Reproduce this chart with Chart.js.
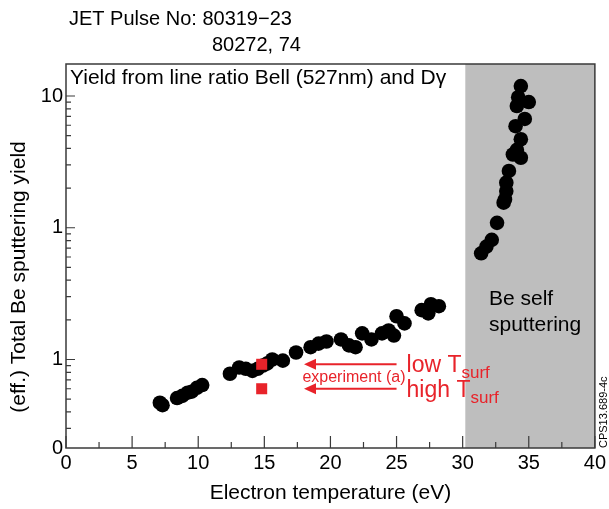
<!DOCTYPE html>
<html>
<head>
<meta charset="utf-8">
<script src="https://cdn.jsdelivr.net/npm/chart.js@4.4.0/dist/chart.umd.min.js"></script>
<style>
  body { margin: 0; background: #fff; }
</style>
</head>
<body>
<canvas id="yieldChart" width="609" height="509"></canvas>
<script>
// Te (eV) vs effective Be sputtering yield
const teLow = [7.1, 7.3, 8.4, 8.8, 9.2, 9.5, 9.9, 10.3, 12.4, 13.1, 13.6, 14.1, 14.5, 14.9, 15.2, 15.6,
  16.4, 17.4, 18.5, 19.1, 19.7, 20.8, 21.4, 21.9, 22.4, 23.1, 23.9, 24.4, 24.8, 25.0, 25.6, 26.9, 27.4, 27.6, 28.2];
const yieldLow = [0.047, 0.045, 0.051, 0.053, 0.056, 0.057, 0.061, 0.064, 0.078, 0.087, 0.085, 0.082, 0.085, 0.090, 0.093, 0.100,
  0.098, 0.113, 0.124, 0.132, 0.137, 0.142, 0.128, 0.124, 0.158, 0.142, 0.158, 0.166, 0.152, 0.213, 0.188, 0.237, 0.224, 0.263, 0.254];

// self sputtering branch (grey area)
const teSelf = [31.4, 31.8, 32.2, 32.6, 33.1, 33.2, 33.3, 33.3, 33.5, 33.8, 34.1, 34.4, 34.4, 34.0, 34.7, 34.1, 35.0, 34.2, 34.4];
const yieldSelf = [0.64, 0.72, 0.81, 1.09, 1.55, 1.64, 1.9, 2.2, 2.7, 3.6, 3.9, 3.4, 4.7, 5.9, 6.7, 8.4, 9.0, 9.8, 11.9];

// experiment (a): low / high surface temperature
const teExp = [14.8, 14.8];
const yieldExp = [0.092, 0.060];

const xTicks = [0, 5, 10, 15, 20, 25, 30, 35, 40];
const Y_MIN = 0.0213, Y_MAX = 17.5;
const yTickValues = [Y_MIN, 0.1, 1, 10];
const yTickLabels = ['0', '1', '1', '10'];
const SELF_START = 30.2;

const RED = '#e8232a';
const FONT = 'Liberation Sans, Arial, sans-serif';

function txt(ctx, s, x, y, size, color, align) {
  ctx.font = size + 'px ' + FONT;
  ctx.fillStyle = color || '#000';
  ctx.textAlign = align || 'left';
  ctx.textBaseline = 'alphabetic';
  ctx.fillText(s, x, y);
  return ctx.measureText(s).width;
}

const decor = {
  id: 'decor',
  beforeDatasetsDraw(chart) {
    const { ctx, chartArea: a, scales: { x } } = chart;
    const x0 = x.getPixelForValue(SELF_START);
    ctx.save();
    ctx.fillStyle = '#bebebe';
    ctx.fillRect(x0, a.top, a.right - x0, a.bottom - a.top);
    ctx.restore();
  },
  afterDatasetsDraw(chart) {
    const { ctx, chartArea: a, scales: { x, y } } = chart;
    ctx.save();
    ctx.strokeStyle = '#3a3a3a';
    ctx.lineWidth = 1.5;
    ctx.strokeRect(a.left, a.top, a.right - a.left, a.bottom - a.top);

    // inward tick marks
    ctx.lineWidth = 1.2;
    ctx.beginPath();
    for (let v = 0; v <= 40; v += 2.5) {
      const px = x.getPixelForValue(v);
      const len = v % 5 === 0 ? 12 : 6;
      ctx.moveTo(px, a.bottom); ctx.lineTo(px, a.bottom - len);
    }
    for (let k = -2; k <= 1; k++) {
      for (let m = 1; m <= 9; m++) {
        const v = m * Math.pow(10, k);
        if (v < Y_MIN || v > Y_MAX) continue;
        const py = y.getPixelForValue(v);
        const len = m === 1 ? 9 : 5;
        ctx.moveTo(a.left, py); ctx.lineTo(a.left + len, py);
      }
    }
    ctx.stroke();

    // arrows for experiment (a)
    ctx.strokeStyle = RED;
    ctx.fillStyle = RED;
    ctx.lineWidth = 2;
    const xa = x.getPixelForValue(18), xb = x.getPixelForValue(25);
    yieldExp.forEach(v => {
      const py = y.getPixelForValue(v);
      ctx.beginPath();
      ctx.moveTo(xb, py); ctx.lineTo(xa + 8, py);
      ctx.stroke();
      ctx.beginPath();
      ctx.moveTo(xa, py); ctx.lineTo(xa + 12, py - 5.5); ctx.lineTo(xa + 12, py + 5.5);
      ctx.closePath(); ctx.fill();
    });
    const tx = xb + 10;
    const y1 = y.getPixelForValue(yieldExp[0]), y2 = y.getPixelForValue(yieldExp[1]);
    let w = txt(ctx, 'low T', tx, y1 + 8, 23, RED);
    txt(ctx, 'surf', tx + w, y1 + 14, 17, RED);
    w = txt(ctx, 'high T', tx, y2 + 8, 23, RED);
    txt(ctx, 'surf', tx + w, y2 + 14, 17, RED);
    txt(ctx, 'experiment (a)', tx - 1, (y1 + y2) / 2 + 5, 16, RED, 'right');

    // labels inside the plot
    txt(ctx, 'Yield from line ratio Bell (527nm) and D\u03b3', a.left + 4, a.top + 20, 21);
    txt(ctx, 'Be self', 489, 305, 21);
    txt(ctx, 'sputtering', 489, 331, 21);
    ctx.restore();
  },
  afterDraw(chart) {
    const { ctx } = chart;
    ctx.save();
    txt(ctx, 'JET Pulse No: 80319\u221223', 69, 25, 20);
    txt(ctx, '80272, 74', 212, 51, 20);
    ctx.save();
    ctx.translate(25, 277);
    ctx.rotate(-Math.PI / 2);
    txt(ctx, '(eff.) Total Be sputtering yield', 0, 0, 21, '#000', 'center');
    ctx.restore();
    ctx.translate(607, 448);
    ctx.rotate(-Math.PI / 2);
    txt(ctx, 'CPS13.689-4c', 0, 0, 11);
    ctx.restore();
  }
};

new Chart(document.getElementById('yieldChart'), {
  type: 'scatter',
  data: {
    datasets: [
      {
        data: teLow.map((t, i) => ({ x: t, y: yieldLow[i] })),
        backgroundColor: '#000', borderWidth: 0, pointRadius: 7.3, order: 2
      },
      {
        data: teSelf.map((t, i) => ({ x: t, y: yieldSelf[i] })),
        backgroundColor: '#000', borderWidth: 0, pointRadius: 7.3, order: 2
      },
      {
        data: teExp.map((t, i) => ({ x: t, y: yieldExp[i] })),
        backgroundColor: RED, borderWidth: 0, pointRadius: 7.8, pointStyle: 'rect', order: 0
      }
    ]
  },
  options: {
    responsive: false,
    animation: false,
    layout: { padding: { top: 64, right: 12, left: 0, bottom: 0 } },
    plugins: { legend: { display: false }, tooltip: { enabled: false } },
    scales: {
      x: {
        type: 'linear', min: 0, max: 40,
        grid: { display: false, drawTicks: false }, border: { display: false },
        afterBuildTicks: s => { s.ticks = xTicks.map(v => ({ value: v })); },
        afterFit: s => { s.height = 61; },
        ticks: { color: '#000', font: { family: FONT, size: 20 }, padding: 3, maxRotation: 0 },
        title: { display: true, text: 'Electron temperature (eV)', color: '#000',
          font: { family: FONT, size: 21 }, padding: { top: 0, bottom: 3 } }
      },
      y: {
        type: 'logarithmic', min: Y_MIN, max: Y_MAX,
        grid: { display: false, drawTicks: false }, border: { display: false },
        afterBuildTicks: s => { s.ticks = yTickValues.map(v => ({ value: v })); },
        afterFit: s => { s.width = 66; },
        ticks: { color: '#000', font: { family: FONT, size: 20 }, padding: 3,
          callback: (v, i) => yTickLabels[i] }
      }
    }
  },
  plugins: [decor]
});
</script>
</body>
</html>
